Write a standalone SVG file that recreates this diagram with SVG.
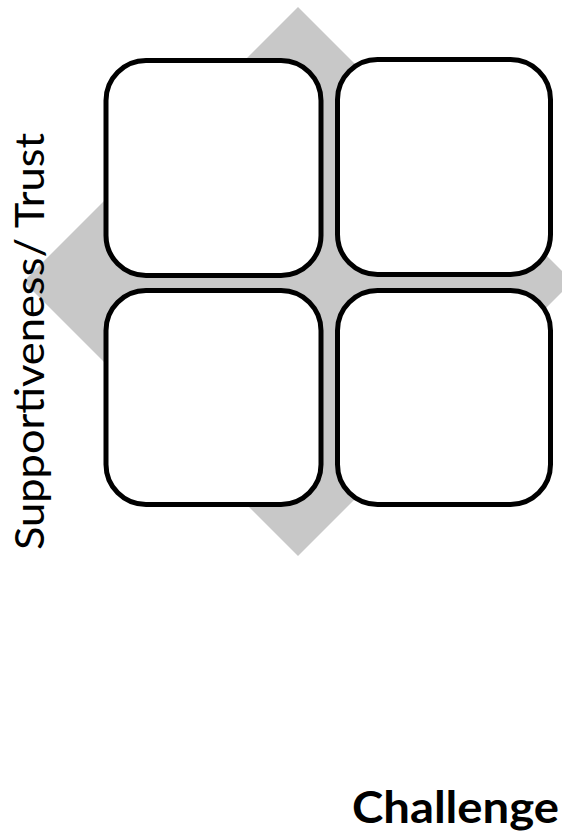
<svg xmlns="http://www.w3.org/2000/svg" width="562" height="838" viewBox="0 0 562 838">
<style>
.box{fill:#ffffff;stroke:#000000;stroke-width:5}
.diamond{fill:#c8c8c8}
.lbl{font-family:"Lato","Open Sans","DejaVu Sans",sans-serif;fill:#000000}
</style>
<rect width="562" height="838" fill="#ffffff"/>
<g id="diamond"><polygon class="diamond" points="298,7 572.5,281.5 298,556 23.5,281.5"/></g>
<g id="axis-y"><text class="lbl" font-size="40" transform="translate(44,550) rotate(-90)" textLength="417" lengthAdjust="spacingAndGlyphs">Supportiveness/ Trust</text></g>
<g id="q-top-left"><rect class="box" x="106" y="60.5" width="215" height="215" rx="40" ry="40"/></g>
<g id="q-top-right"><rect class="box" x="337.5" y="59.5" width="213" height="215" rx="40" ry="40"/></g>
<g id="q-bottom-left"><rect class="box" x="106" y="290.5" width="215" height="214" rx="40" ry="40"/></g>
<g id="q-bottom-right"><rect class="box" x="337.5" y="290.5" width="213" height="214" rx="40" ry="40"/></g>
<g id="connectors"></g>
<g id="axis-x"><text class="lbl" font-size="43" font-weight="bold" x="352" y="823" textLength="207" lengthAdjust="spacingAndGlyphs">Challenge</text></g>
</svg>
